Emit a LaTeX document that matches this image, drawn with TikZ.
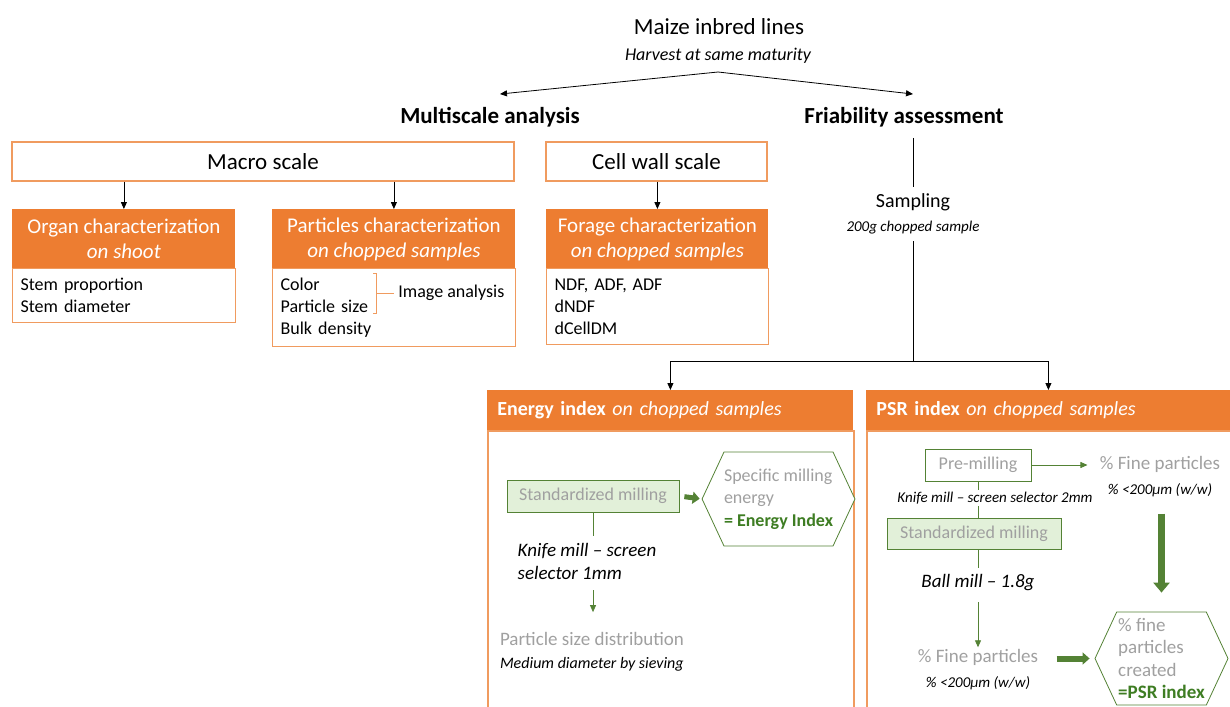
\documentclass[tikz,border=0pt]{standalone}
\usepackage{fontspec}
\setmainfont{Carlito}
\usetikzlibrary{arrows.meta,shapes.symbols}
\definecolor{orng}{RGB}{237,125,49}
\definecolor{orngline}{RGB}{240,155,95}
\definecolor{grn}{RGB}{84,130,53}
\definecolor{grntxt}{RGB}{62,125,35}
\definecolor{grnfill}{RGB}{226,240,217}
\definecolor{txtgray}{RGB}{160,160,160}
\begin{document}
\begin{tikzpicture}[x=0.5pt,y=-0.5pt,>={Triangle[length=3.5pt,width=3pt]},
  scalebox/.style={draw=orngline,line width=0.6pt,inner sep=0pt,minimum height=19.5pt,font=\fontsize{11.5}{13}\selectfont},
  cardhead/.style={fill=orng,text=white,align=center,anchor=north west,inner sep=0pt,minimum height=29.5pt,font=\fontsize{10.5}{12.5}\selectfont},
  cardlist/.style={draw=orngline,line width=0.6pt,align=left,anchor=north west,inner xsep=4pt,inner ysep=2pt,font=\fontsize{9}{11}\selectfont},
  boxhead/.style={fill=orng,text=white,align=left,anchor=north west,inner xsep=5pt,inner ysep=0pt,minimum height=20pt,font=\fontsize{10}{12}\selectfont},
  panel/.style={draw=orngline,line width=0.8pt,anchor=north west,minimum height=145pt},
  greenbox/.style={draw=grn,fill=grnfill,text=txtgray,inner xsep=3pt,inner ysep=0pt,font=\fontsize{9}{11}\selectfont},
  hexnode/.style={signal,signal to=east and west,signal pointer angle=130,draw=grn,fill=white,text=txtgray,align=left,inner sep=0pt,font=\fontsize{9}{11.2}\selectfont},
  thickarrow/.style={draw=grn,line width=2.5pt,-{Triangle[length=3.5pt,width=6pt]}},
  bigarrow/.style={draw=grn,line width=3.5pt,-{Triangle[length=5pt,width=8pt]}},
  bold/.style={font=\fontsize{11.5}{13}\selectfont\bfseries}]
\useasboundingbox (0,0) rectangle (1230,706);

\node[font=\fontsize{11.5}{13}\selectfont] (maize) at (719,27) {Maize inbred lines};
\node[font=\fontsize{9}{11}\selectfont\itshape] (harvest) at (718,56) {Harvest at same maturity};
\coordinate (apex) at (718,72);
\node[bold] (multi) at (490,117) {Multiscale analysis};
\node[bold] (fria) at (904,117) {Friability assessment};
\draw[->] (apex) -- ([xshift=5pt,yshift=3pt]multi.north);
\draw[->] (apex) -- ([xshift=4.5pt,yshift=3pt]fria.north);

\node[scalebox,minimum width=251pt] (macro) at (263,161.5) {Macro scale};
\node[scalebox,minimum width=110.5pt] (cellwall) at (656.5,161.5) {Cell wall scale};

\node[cardhead,minimum width=111.5pt] (organ) at (12,209) {Organ characterization\\\textit{on shoot}};
\node[cardlist,text width=103.5pt,minimum height=27pt] (organlist) at (12,268) {Stem proportion\\Stem diameter};
\node[cardhead,minimum width=121.5pt] (particles) at (272,209) {Particles characterization\\\textit{on chopped samples}};
\node[cardlist,text width=113.5pt,minimum height=39pt] (partlist) at (272,268) {Color\\Particle size\\Bulk density};
\node[cardhead,minimum width=111pt] (forage) at (546,209) {Forage characterization\\\textit{on chopped samples}};
\node[cardlist,text width=103pt,minimum height=38pt] (foragelist) at (546,268) {NDF, ADF, ADF\\dNDF\\dCellDM};
\node[font=\fontsize{9}{11}\selectfont,anchor=west,inner sep=0pt] (imgan) at (398,293) {Image analysis};
\draw[orngline] ([shift={(-25,-20)}]imgan.west) -- ++(3,0) -- ++(0,40) -- ++(-3,0);
\draw[orngline] ([shift={(-22,0)}]imgan.west) -- ([shift={(-4,0)}]imgan.west);

\foreach \c in {organ,particles,forage}
\draw[->] (macro.south |- cellwall.south -| \c.north) -- (\c.north);

\node[align=center,font=\fontsize{10}{12}\selectfont] (sampling) at (913,214) {Sampling\\{\fontsize{7.5}{9}\selectfont\itshape 200g chopped sample}};
\draw[shorten <=2pt] (fria.south -| sampling.north) -- (sampling.north);
\coordinate (split) at (913,361);
\draw (sampling.south) -- (split);

\node[boxhead,text width=173pt] (ehead) at (487,390) {\textbf{Energy index} \textit{on chopped samples}};
\node[boxhead,text width=172pt] (phead) at (866,390) {\textbf{PSR index} \textit{on chopped samples}};
\node[panel,minimum width=183pt] (ebody) at (487,430) {};
\node[panel,minimum width=182pt] (pbody) at (866,430) {};
\draw[->] (split) -| (ehead.north);
\draw[->] (split) -| (phead.north);

\node[greenbox,minimum width=86pt,minimum height=16pt] (emill) at (593,496) {Standardized milling};
\node[hexnode,minimum width=71.5pt,minimum height=47pt] (ehex) at (778.5,499) {Specific milling\\energy\\\textcolor{grntxt}{\textbf{= Energy Index}}};
\draw[thickarrow,shorten <=2.5pt,shorten >=1pt] (emill.east) -- (ehex.west);
\node[align=left,font=\fontsize{9.5}{11.5}\selectfont\itshape] (eknife) at (587,561) {Knife mill – screen\\selector 1mm};
\draw[grn] (emill.south) -- (emill.south |- eknife.north);
\node[align=left,inner sep=1pt,font=\fontsize{9.5}{11.5}\selectfont] (epsd) at (592,652) {\textcolor{txtgray}{Particle size distribution}\\{\fontsize{8}{10}\selectfont\itshape Medium diameter by sieving}};
\draw[->,grn,shorten <=2pt,shorten >=9pt] (eknife.south -| emill.south) -- (epsd.north -| emill.south);

\node[greenbox,fill=white,minimum width=53pt,minimum height=16pt] (ppre) at (978,465) {Pre-milling};
\node[align=center,inner sep=1pt,font=\fontsize{9.5}{12.5}\selectfont] (pfine1) at (1160,477) {\textcolor{txtgray}{\% Fine particles}\\{\fontsize{7.5}{9}\selectfont\itshape\% <200µm (w/w)}};
\draw[->,grn,shorten >=5pt] (ppre.east) -- (ppre.east -| pfine1.west);
\node[greenbox,minimum width=87pt,minimum height=15.5pt] (pstd) at (974,533.5) {Standardized milling};
\draw[grn] (ppre.south) -- (ppre.south |- pstd.north);
\node[fill=white,inner sep=1pt,font=\fontsize{7.5}{9}\selectfont\itshape] (pknife) at (995,498) {Knife mill – screen selector 2mm};
\node[font=\fontsize{9.5}{11.5}\selectfont\itshape] (pball) at (978,583) {Ball mill – 1.8g};
\draw[grn] (ppre.south |- pstd.south) -- (ppre.south |- pball.north);
\node[align=center,inner sep=1pt,font=\fontsize{9.5}{12.5}\selectfont] (pfine2) at (978,670) {\textcolor{txtgray}{\% Fine particles}\\{\fontsize{7.5}{9}\selectfont\itshape\% <200µm (w/w)}};
\draw[->,grn,shorten <=2pt] (ppre.south |- pball.south) -- (ppre.south |- pfine2.north);
\node[hexnode,minimum width=66.5pt,minimum height=46.5pt,font=\fontsize{9.5}{11.3}\selectfont] (phex) at (1161.5,658.5) {\% fine\\particles\\created\\\textcolor{grntxt}{\textbf{=PSR index}}};
\draw[thickarrow,line width=3pt,shorten <=8pt,shorten >=2.5pt] (phex.west -| pfine2.east) -- (phex.west);
\draw[bigarrow,shorten <=7pt,shorten >=9.5pt] (pfine1.south -| phex.north) -- (phex.north);
\end{tikzpicture}
\end{document}
